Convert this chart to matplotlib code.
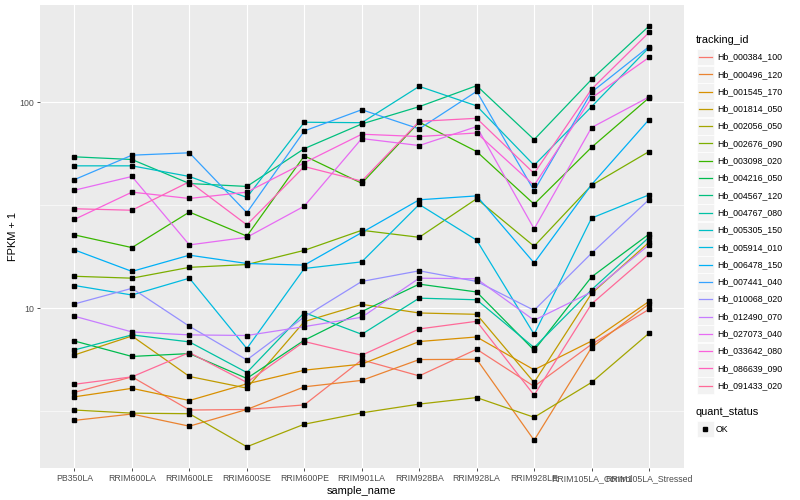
import numpy as np
import matplotlib.pyplot as plt
from matplotlib.lines import Line2D
from matplotlib.patches import Rectangle
from matplotlib.ticker import FixedLocator, NullFormatter

plt.rcParams['font.family'] = ['Liberation Sans', 'DejaVu Sans']

samples = ['PB350LA', 'RRIM600LA', 'RRIM600LE', 'RRIM600SE', 'RRIM600PE', 'RRIM901LA',
           'RRIM928BA', 'RRIM928LA', 'RRIM928LE', 'RRIM105LA_Control', 'RRIM105LA_Stressed']

# FPKM + 1 per gene
Hb_000384_100 = [3.91, 4.65, 3.21, 3.23, 3.40, 5.62, 4.70, 6.33, 4.18, 6.69, 9.89]
Hb_000496_120 = [2.86, 3.07, 2.68, 3.23, 4.16, 4.47, 5.64, 5.66, 2.29, 6.45, 10.5]
Hb_001545_170 = [3.72, 4.09, 3.57, 4.30, 5.01, 5.36, 6.90, 7.26, 5.03, 6.94, 10.8]
Hb_001814_050 = [5.94, 7.34, 4.67, 4.10, 8.62, 10.45, 9.49, 9.35, 4.37, 11.8, 20.9]
Hb_002056_050 = [3.21, 3.10, 3.08, 2.13, 2.74, 3.11, 3.43, 3.69, 2.96, 4.37, 7.57]
Hb_002676_090 = [14.3, 14.0, 15.8, 16.3, 19.1, 23.9, 22.1, 34.0, 20.0, 39.5, 57.6]
Hb_003098_020 = [22.7, 19.7, 29.3, 22.4, 54.9, 40.4, 80.0, 57.6, 32.0, 60.4, 105.0]
Hb_004216_050 = [6.94, 5.84, 6.03, 4.57, 7.00, 9.64, 13.1, 12.0, 6.26, 14.2, 22.9]
Hb_004567_120 = [54.3, 52.7, 40.3, 39.0, 59.5, 78.4, 95.1, 120.2, 65.8, 128.9, 233.9]
Hb_004767_080 = [6.28, 7.43, 6.87, 4.88, 9.53, 7.48, 11.2, 11.0, 6.45, 12.3, 22.1]
Hb_005305_150 = [49.1, 49.1, 43.6, 34.5, 79.9, 79.5, 119.3, 95.9, 49.4, 95.1, 184.0]
Hb_005914_010 = [12.9, 11.6, 14.0, 6.38, 15.6, 16.8, 31.9, 21.4, 7.48, 27.4, 35.5]
Hb_006478_150 = [19.2, 15.1, 18.1, 16.5, 16.2, 23.3, 33.6, 35.1, 16.6, 39.8, 82.3]
Hb_007441_040 = [42.1, 55.3, 56.8, 29.1, 72.5, 91.9, 74.2, 112.8, 37.2, 111.8, 186.0]
Hb_010068_020 = [10.5, 12.5, 8.18, 5.62, 9.08, 13.5, 15.2, 13.5, 9.78, 18.5, 33.7]
Hb_012490_070 = [9.15, 7.68, 7.43, 7.38, 8.15, 9.05, 14.0, 13.9, 8.75, 12.0, 20.3]
Hb_027073_040 = [37.4, 43.6, 20.3, 22.1, 31.3, 66.6, 61.6, 76.1, 24.3, 75.3, 106.0]
Hb_033642_080 = [27.0, 36.6, 34.1, 36.6, 50.8, 69.9, 68.1, 70.9, 39.5, 104.8, 164.8]
Hb_086639_090 = [30.4, 29.9, 41.1, 25.4, 48.7, 41.4, 80.7, 83.5, 45.1, 115.6, 217.8]
Hb_091433_020 = [4.28, 4.65, 6.10, 4.37, 6.90, 5.92, 7.94, 8.65, 3.79, 10.5, 18.3]

genes = ['Hb_000384_100', 'Hb_000496_120', 'Hb_001545_170', 'Hb_001814_050', 'Hb_002056_050',
         'Hb_002676_090', 'Hb_003098_020', 'Hb_004216_050', 'Hb_004567_120', 'Hb_004767_080',
         'Hb_005305_150', 'Hb_005914_010', 'Hb_006478_150', 'Hb_007441_040', 'Hb_010068_020',
         'Hb_012490_070', 'Hb_027073_040', 'Hb_033642_080', 'Hb_086639_090', 'Hb_091433_020']
values = [Hb_000384_100, Hb_000496_120, Hb_001545_170, Hb_001814_050, Hb_002056_050,
          Hb_002676_090, Hb_003098_020, Hb_004216_050, Hb_004567_120, Hb_004767_080,
          Hb_005305_150, Hb_005914_010, Hb_006478_150, Hb_007441_040, Hb_010068_020,
          Hb_012490_070, Hb_027073_040, Hb_033642_080, Hb_086639_090, Hb_091433_020]


def hcl(h, c=100.0, l=65.0):
    # polar Luv -> sRGB, like R's hcl()
    xn, yn, zn = 95.047, 100.0, 108.883
    un = 4 * xn / (xn + 15 * yn + 3 * zn)
    vn = 9 * yn / (xn + 15 * yn + 3 * zn)
    u = c * np.cos(np.radians(h))
    v = c * np.sin(np.radians(h))
    Y = yn * ((l + 16) / 116) ** 3
    up = u / (13 * l) + un
    vp = v / (13 * l) + vn
    X = Y * 9 * up / (4 * vp)
    Z = Y * (12 - 3 * up - 20 * vp) / (4 * vp)
    X, Y, Z = X / 100, Y / 100, Z / 100
    r = 3.240479 * X - 1.537150 * Y - 0.498535 * Z
    g = -0.969256 * X + 1.875992 * Y + 0.041556 * Z
    b = 0.055648 * X - 0.204043 * Y + 1.057311 * Z
    out = []
    for ch in (r, g, b):
        ch = 12.92 * ch if ch <= 0.0031308 else 1.055 * ch ** (1 / 2.4) - 0.055
        out.append(min(max(ch, 0), 1))
    return tuple(out)


n = len(genes)
hues = np.linspace(15, 375, n + 1)[:-1]
colors = [hcl(h) for h in hues]

fig = plt.figure(figsize=(8, 5), dpi=100)
ax = fig.add_axes([40 / 800, 1 - 468 / 500, 643.5 / 800, 463 / 500])
ax.set_facecolor('#EBEBEB')
for s in ax.spines.values():
    s.set_visible(False)

x = np.arange(len(samples))
for g, vals, col in zip(genes, values, colors):
    ax.plot(x, vals, color=col, lw=0.9, zorder=3)
for vals in values:
    ax.plot(x, vals, 's', color='black', ms=2.6, zorder=4, lw=0)

ax.set_yscale('log')
ax.set_ylim(1.68, 296)
ax.set_xlim(-0.6, len(samples) - 0.4)
ax.yaxis.set_major_locator(FixedLocator([10, 100]))
ax.yaxis.set_minor_locator(FixedLocator([10 ** 0.5, 10 ** 1.5]))
ax.yaxis.set_minor_formatter(NullFormatter())
ax.set_yticklabels(['10', '100'])
ax.set_xticks(x)
ax.set_xticklabels(samples)
ax.grid(True, which='major', color='white', lw=0.8, zorder=1)
ax.grid(True, which='minor', axis='y', color='white', lw=0.4, zorder=1)
ax.set_axisbelow(True)
ax.tick_params(axis='both', which='major', length=2.5, width=0.6, color='#333333',
               labelsize=6.3, labelcolor='#4D4D4D', pad=2)
ax.tick_params(axis='y', which='minor', length=0)
ax.set_xlabel('sample_name', fontsize=7.9, labelpad=2)
ax.set_ylabel('FPKM + 1', fontsize=7.9, labelpad=1)

# legend, drawn like ggplot's guide boxes
def fx(px):
    return px / 800


def fy(py):
    return 1 - py / 500


fig.text(fx(696), fy(40), 'tracking_id', fontsize=7.9, va='center', ha='left')
for i, (g, col) in enumerate(zip(genes, colors)):
    yc = 57 + i * 17.3
    fig.add_artist(Rectangle((fx(697), fy(yc + 8.4)), 16.5 / 800, 16.8 / 500,
                             transform=fig.transFigure, facecolor='#F2F2F2', edgecolor='white', lw=0.5))
    fig.add_artist(Line2D([fx(698.5), fx(712)], [fy(yc), fy(yc)], color=col, lw=0.9,
                          transform=fig.transFigure))
    fig.text(fx(717), fy(yc), g, fontsize=6.3, va='center', ha='left')

fig.text(fx(696), fy(412), 'quant_status', fontsize=7.9, va='center', ha='left')
fig.add_artist(Rectangle((fx(697), fy(429 + 8.4)), 16.5 / 800, 16.8 / 500,
                         transform=fig.transFigure, facecolor='#F2F2F2', edgecolor='white', lw=0.5))
fig.add_artist(Line2D([fx(705)], [fy(429)], marker='s', ms=2.6, color='black', lw=0,
                      transform=fig.transFigure))
fig.text(fx(716), fy(429), 'OK', fontsize=6.3, va='center', ha='left')

fig.savefig('out.png', dpi=100)
